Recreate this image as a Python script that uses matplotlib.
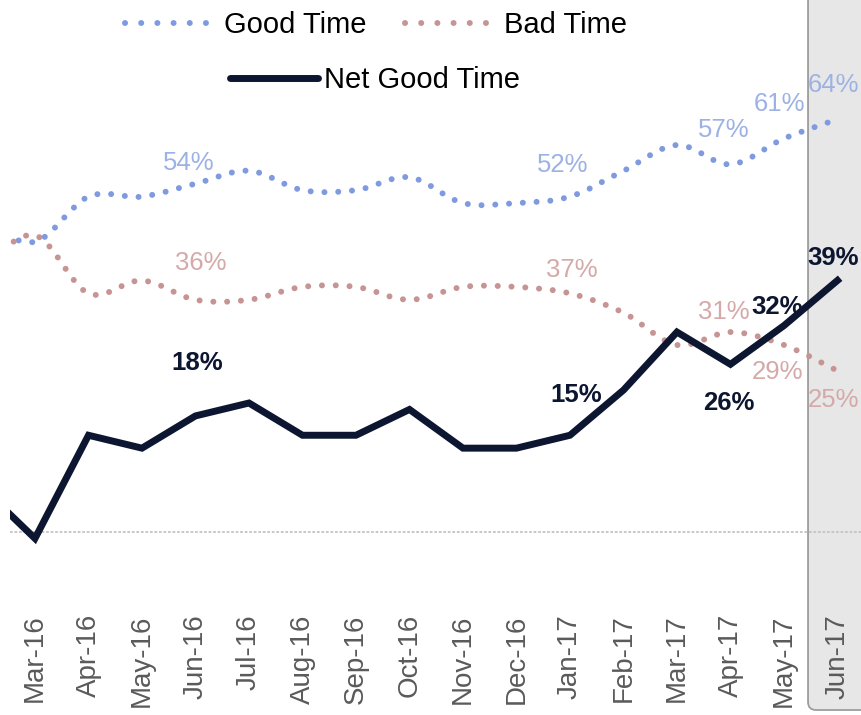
import numpy as np
import matplotlib.pyplot as plt
from matplotlib.path import Path
from matplotlib.patches import PathPatch, FancyBboxPatch
from matplotlib.lines import Line2D
from matplotlib import font_manager
import matplotlib.transforms as mtransforms

months = ["Feb-16", "Mar-16", "Apr-16", "May-16", "Jun-16", "Jul-16", "Aug-16", "Sep-16",
          "Oct-16", "Nov-16", "Dec-16", "Jan-17", "Feb-17", "Mar-17", "Apr-17", "May-17", "Jun-17"]
good = [48, 45, 52, 52, 54, 56, 53, 53, 55, 51, 51, 52, 56, 60, 57, 61, 64]
bad = [41, 46, 37, 39, 36, 36, 38, 38, 36, 38, 38, 37, 34, 29, 31, 29, 25]
net = [7, -1, 15, 13, 18, 20, 15, 15, 19, 13, 13, 15, 22, 31, 26, 32, 39]

# labelled points: (month, value, dx px, dy px)
good_labels = [("Jun-16", 54, -7, 21), ("Jan-17", 52, -7, 32), ("Apr-17", 57, -7, 34),
               ("May-17", 61, -4, 35), ("Jun-17", 64, -4, 34)]
bad_labels = [("Jun-16", 36, 5, 37), ("Jan-17", 37, 2, 23), ("Apr-17", 31, -7, 20),
              ("May-17", 29, -6, -27), ("Jun-17", 25, -4, -29)]
net_labels = [("Jun-16", 18, 2, 53), ("Jan-17", 15, 6, 40), ("Apr-17", 26, -2, -39),
              ("May-17", 32, -7, 19), ("Jun-17", 39, -4, 22)]

GOOD_C = "#7f9ade"
GOOD_TXT = "#9db2e4"
BAD_C = "#c79494"
BAD_TXT = "#d6a9a9"
NET_C = "#0d1630"

fams = {f.name for f in font_manager.fontManager.ttflist}
narrow = "Liberation Sans Narrow" if "Liberation Sans Narrow" in fams else "Liberation Sans"
lab_size = 21 if narrow == "Liberation Sans Narrow" else 18.5
plt.rcParams['font.family'] = ['Liberation Sans', 'DejaVu Sans']


def smooth_path(xs, ys):
    pts = np.column_stack([xs, ys]).astype(float)
    verts = [pts[0]]
    codes = [Path.MOVETO]
    n = len(pts)
    for i in range(n - 1):
        p0 = pts[i - 1] if i > 0 else pts[i]
        p1, p2 = pts[i], pts[i + 1]
        p3 = pts[i + 2] if i + 2 < n else p2
        verts += [p1 + (p2 - p0) / 6, p2 - (p3 - p1) / 6, p2]
        codes += [Path.CURVE4] * 3
    return Path(verts, codes)


x = np.arange(len(months))
fig = plt.figure(figsize=(8.61, 7.15), dpi=100)
ax = fig.add_axes([10 / 861, 105 / 715, 851 / 861, 610 / 715])
ax.set_xlim(0.533, 16.44)
ax.set_ylim(-12.09, 82.48)

# highlight box for the latest month
trans = mtransforms.blended_transform_factory(ax.transData, fig.transFigure)
box = FancyBboxPatch((x[-1] - 0.55, 0.007), 2, 1.1,
                     boxstyle="round,pad=0,rounding_size=0.15", mutation_aspect=0.075,
                     transform=trans, facecolor="#e7e7e7", edgecolor="#9d9d9d", lw=1.3,
                     clip_on=False, zorder=0)
ax.add_patch(box)

ax.axhline(0, color="#c4c4c4", lw=1.3, ls=(0, (1.5, 1)), zorder=1)

dot_style = (0, (0.01, 2.3))
for vals, col in [(good, GOOD_C), (bad, BAD_C)]:
    ax.add_patch(PathPatch(smooth_path(x, vals), fill=False, edgecolor=col, lw=4.3,
                           linestyle=dot_style, capstyle='round', zorder=2))
ax.plot(x, net, color=NET_C, lw=5, solid_joinstyle='miter', zorder=3)

for labels, col, weight in [(good_labels, GOOD_TXT, 'normal'), (bad_labels, BAD_TXT, 'normal'),
                            (net_labels, NET_C, 'bold')]:
    for m, v, dx, dy in labels:
        ax.annotate(f"{v}%", (months.index(m), v), xytext=(dx, dy), textcoords='offset pixels',
                    ha='center', va='center', fontsize=lab_size, color=col, fontweight=weight,
                    family=[narrow, 'DejaVu Sans'], zorder=4)

ax.set_xticks(x[1:])
ax.set_xticklabels(months[1:], rotation=90, fontsize=20, color="#5a5a5a")
ax.tick_params(axis='x', length=0, pad=3)
ax.set_yticks([])
for s in ax.spines.values():
    s.set_visible(False)
ax.patch.set_alpha(0)

h_good = Line2D([], [], color=GOOD_C, lw=4.3, linestyle=(0, (0.01, 2.7)), dash_capstyle='round')
h_bad = Line2D([], [], color=BAD_C, lw=4.3, linestyle=(0, (0.01, 2.7)), dash_capstyle='round')
h_net = Line2D([], [], color=NET_C, lw=5, solid_capstyle='round')
leg1 = fig.legend([h_good, h_bad], ["Good Time", "Bad Time"], ncol=2, loc='center',
                  bbox_to_anchor=(376 / 861, 1 - 25 / 715), frameon=False, fontsize=21,
                  handlelength=2.8, handletextpad=0.6, columnspacing=1.3, borderpad=0)
leg2 = fig.legend([h_net], ["Net Good Time"], loc='center',
                  bbox_to_anchor=(375 / 861, 1 - 80 / 715), frameon=False, fontsize=21,
                  handlelength=3.0, handletextpad=0.2, borderpad=0)

fig.savefig("out.png", dpi=100)
